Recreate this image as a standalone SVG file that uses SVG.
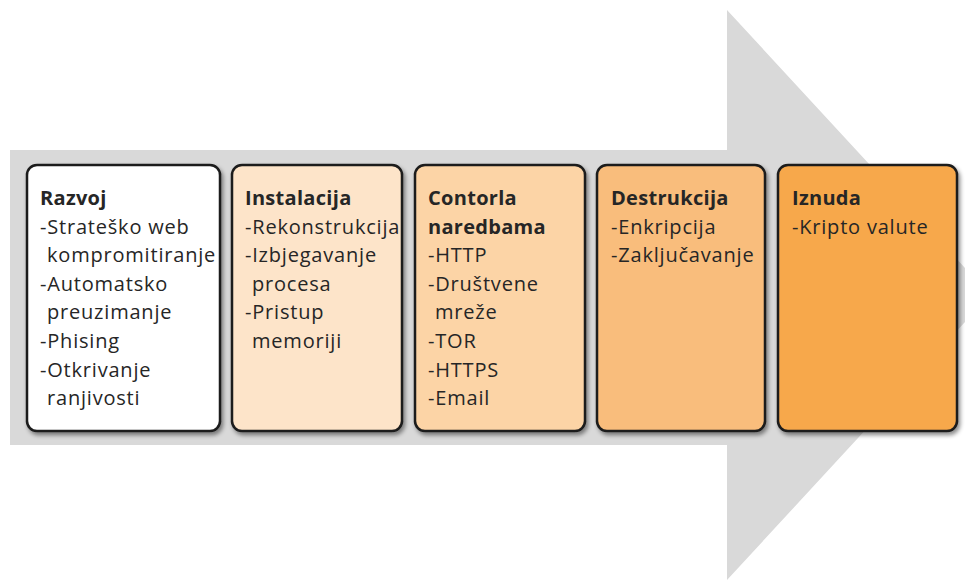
<svg xmlns="http://www.w3.org/2000/svg" width="965" height="581" viewBox="0 0 965 581">
<defs>
<filter id="sh" x="-10%" y="-10%" width="130%" height="130%">
<feDropShadow dx="2" dy="3" stdDeviation="2" flood-color="#000" flood-opacity="0.45"/>
</filter>
</defs>
<style>
.box{stroke:#1a1a1a;stroke-width:2.5;filter:url(#sh)}
text{font-family:"Open Sans","Noto Sans",sans-serif;font-size:20px;letter-spacing:0.8px;fill:#262626}
.t{font-weight:bold;letter-spacing:0.3px}
</style>
<rect width="965" height="581" fill="#ffffff"/>
<g id="arrow">
<polygon points="10,150 727,150 727,10 990,295 727,580 727,445 10,445" fill="#d9d9d9"/>
</g>
<g id="connectors"></g>
<g id="razvoj">
<rect class="box" x="27" y="165" width="193" height="266" rx="10" fill="#ffffff"/>
<text x="40" y="205"><tspan class="t">Razvoj</tspan>
<tspan x="40" y="233.5">-Strateško web</tspan>
<tspan x="47" y="262">kompromitiranje</tspan>
<tspan x="40" y="290.5">-Automatsko</tspan>
<tspan x="47" y="319">preuzimanje</tspan>
<tspan x="40" y="348">-Phising</tspan>
<tspan x="40" y="376.5">-Otkrivanje</tspan>
<tspan x="47" y="405">ranjivosti</tspan></text>
</g>
<g id="instalacija">
<rect class="box" x="232" y="165" width="170" height="266" rx="10" fill="#fde4c9"/>
<text x="245" y="205"><tspan class="t">Instalacija</tspan>
<tspan x="245" y="233.5">-Rekonstrukcija</tspan>
<tspan x="245" y="262">-Izbjegavanje</tspan>
<tspan x="252" y="290.5">procesa</tspan>
<tspan x="245" y="319">-Pristup</tspan>
<tspan x="252" y="348">memoriji</tspan></text>
</g>
<g id="kontrola">
<rect class="box" x="415" y="165" width="170" height="266" rx="10" fill="#fcd4a6"/>
<text x="428" y="205"><tspan class="t">Contorla</tspan>
<tspan class="t" x="428" y="233.5">naredbama</tspan>
<tspan x="428" y="262">-HTTP</tspan>
<tspan x="428" y="290.5">-Društvene</tspan>
<tspan x="435" y="319">mreže</tspan>
<tspan x="428" y="348">-TOR</tspan>
<tspan x="428" y="376.5">-HTTPS</tspan>
<tspan x="428" y="405">-Email</tspan></text>
</g>
<g id="destrukcija">
<rect class="box" x="597" y="165" width="168" height="266" rx="10" fill="#f9bd7c"/>
<text x="611" y="205"><tspan class="t">Destrukcija</tspan>
<tspan x="611" y="233.5">-Enkripcija</tspan>
<tspan x="611" y="262">-Zaključavanje</tspan></text>
</g>
<g id="iznuda">
<rect class="box" x="778" y="165" width="179" height="266" rx="10" fill="#f7a84c"/>
<text x="792" y="205"><tspan class="t">Iznuda</tspan>
<tspan x="792" y="233.5">-Kripto valute</tspan></text>
</g>
</svg>
